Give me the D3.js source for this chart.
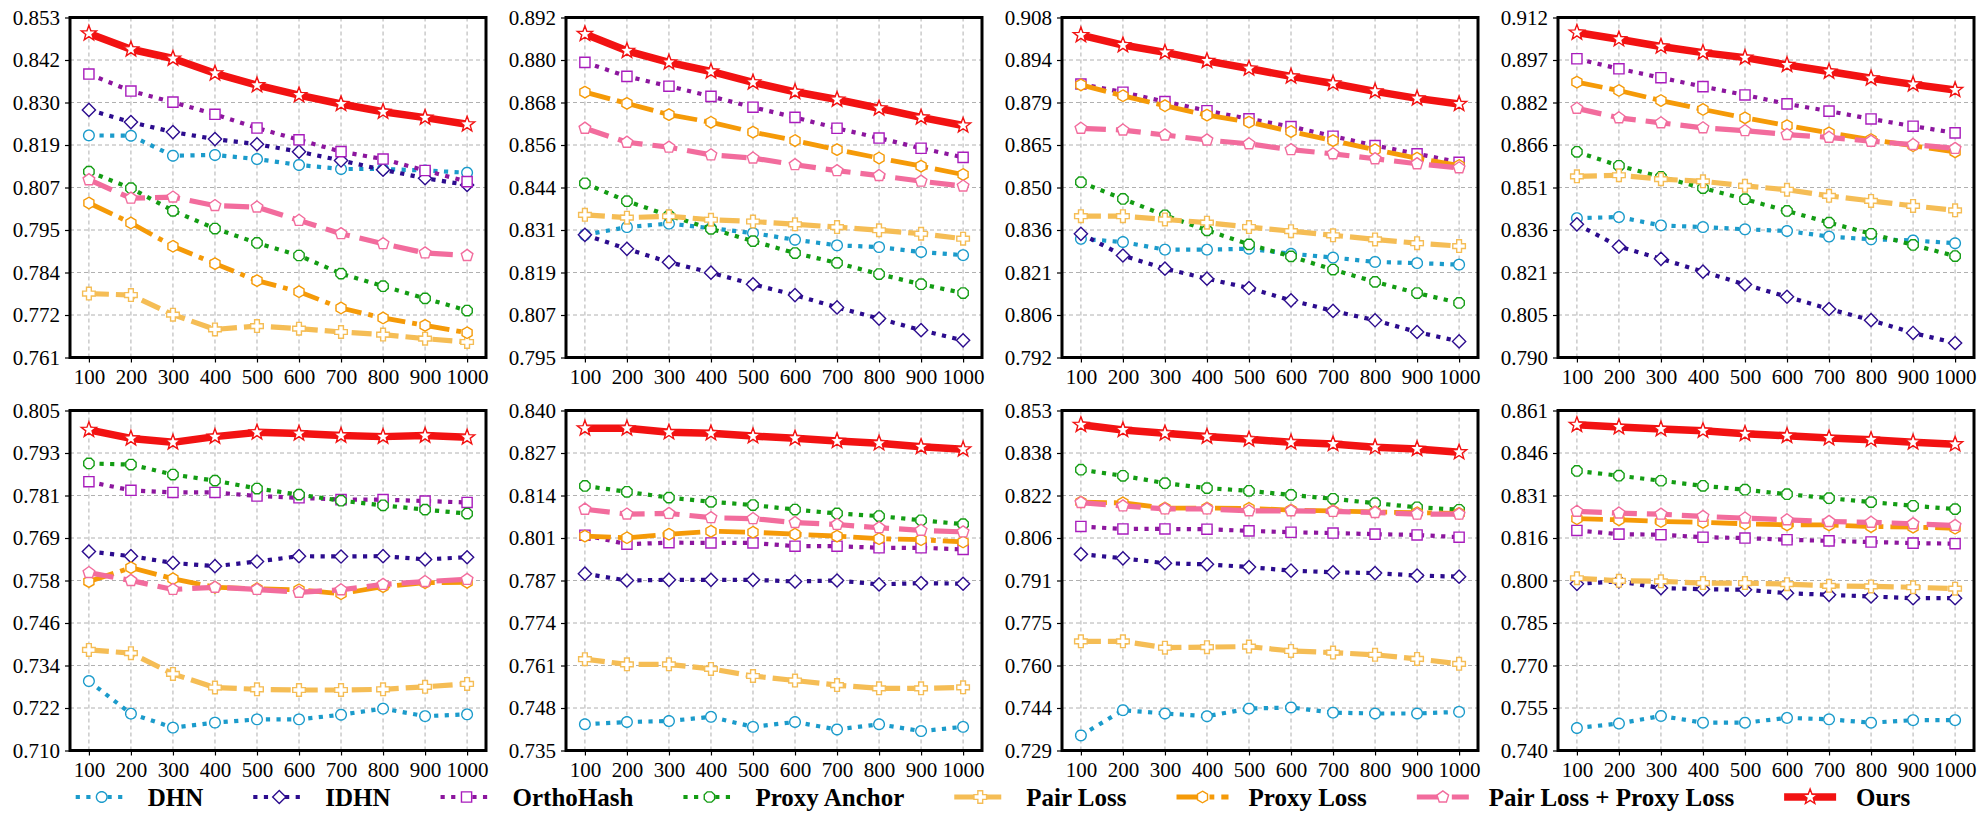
<!DOCTYPE html>
<html>
<head>
<meta charset="utf-8">
<script src="https://cdn.jsdelivr.net/npm/d3@7"></script>
<style>
  body { margin: 0; background: #fff; }
  text { font-family: "Liberation Serif", "Times New Roman", serif; }
</style>
</head>
<body>
<script>
// code lengths on the x axis
const xTicks = [100, 200, 300, 400, 500, 600, 700, 800, 900, 1000];

// y range and tick labels of each of the 8 panels (left to right, top to bottom)
const yLimits = [
  [0.761, 0.853], [0.795, 0.892], [0.792, 0.908], [0.790, 0.912],
  [0.710, 0.805], [0.735, 0.840], [0.729, 0.853], [0.740, 0.861]
];
const yTickLabels = [
  ['0.761', '0.772', '0.784', '0.795', '0.807', '0.819', '0.830', '0.842', '0.853'],
  ['0.795', '0.807', '0.819', '0.831', '0.844', '0.856', '0.868', '0.880', '0.892'],
  ['0.792', '0.806', '0.821', '0.836', '0.850', '0.865', '0.879', '0.894', '0.908'],
  ['0.790', '0.805', '0.821', '0.836', '0.851', '0.866', '0.882', '0.897', '0.912'],
  ['0.710', '0.722', '0.734', '0.746', '0.758', '0.769', '0.781', '0.793', '0.805'],
  ['0.735', '0.748', '0.761', '0.774', '0.787', '0.801', '0.814', '0.827', '0.840'],
  ['0.729', '0.744', '0.760', '0.775', '0.791', '0.806', '0.822', '0.838', '0.853'],
  ['0.740', '0.755', '0.770', '0.785', '0.800', '0.816', '0.831', '0.846', '0.861']
];

// one row per panel
const dhn = [
  [0.8211, 0.8210, 0.8156, 0.8158, 0.8147, 0.8131, 0.8120, 0.8120, 0.8116, 0.8110],
  [0.8300, 0.8322, 0.8332, 0.8319, 0.8305, 0.8286, 0.8270, 0.8265, 0.8251, 0.8242],
  [0.8325, 0.8314, 0.8288, 0.8288, 0.8291, 0.8274, 0.8261, 0.8246, 0.8242, 0.8237],
  [0.8400, 0.8404, 0.8374, 0.8368, 0.8360, 0.8354, 0.8334, 0.8324, 0.8320, 0.8310],
  [0.7294, 0.7203, 0.7164, 0.7178, 0.7187, 0.7187, 0.7200, 0.7217, 0.7196, 0.7201],
  [0.7431, 0.7438, 0.7441, 0.7454, 0.7423, 0.7438, 0.7415, 0.7431, 0.7410, 0.7423],
  [0.7345, 0.7437, 0.7425, 0.7415, 0.7443, 0.7447, 0.7428, 0.7425, 0.7425, 0.7431],
  [0.7480, 0.7496, 0.7523, 0.7499, 0.7499, 0.7516, 0.7511, 0.7499, 0.7508, 0.7508]
];
const idhn = [
  [0.8280, 0.8247, 0.8220, 0.8201, 0.8187, 0.8167, 0.8143, 0.8118, 0.8095, 0.8077],
  [0.8300, 0.8260, 0.8222, 0.8192, 0.8159, 0.8128, 0.8093, 0.8061, 0.8028, 0.7999],
  [0.8342, 0.8268, 0.8223, 0.8189, 0.8157, 0.8115, 0.8079, 0.8047, 0.8007, 0.7975],
  [0.8378, 0.8298, 0.8254, 0.8208, 0.8162, 0.8118, 0.8074, 0.8034, 0.7988, 0.7952],
  [0.7656, 0.7643, 0.7624, 0.7615, 0.7628, 0.7643, 0.7642, 0.7643, 0.7634, 0.7640],
  [0.7896, 0.7875, 0.7877, 0.7877, 0.7877, 0.7872, 0.7875, 0.7863, 0.7867, 0.7865],
  [0.8006, 0.7991, 0.7973, 0.7969, 0.7959, 0.7946, 0.7940, 0.7937, 0.7928, 0.7924],
  [0.7993, 0.8002, 0.7978, 0.7974, 0.7972, 0.7960, 0.7954, 0.7948, 0.7942, 0.7942]
];
const orthoHash = [
  [0.8377, 0.8331, 0.8301, 0.8268, 0.8231, 0.8199, 0.8167, 0.8147, 0.8116, 0.8086],
  [0.8792, 0.8752, 0.8724, 0.8695, 0.8664, 0.8635, 0.8604, 0.8576, 0.8547, 0.8521],
  [0.8853, 0.8825, 0.8793, 0.8762, 0.8734, 0.8708, 0.8675, 0.8643, 0.8615, 0.8586],
  [0.8972, 0.8936, 0.8904, 0.8872, 0.8842, 0.8810, 0.8784, 0.8756, 0.8730, 0.8706],
  [0.7851, 0.7827, 0.7821, 0.7821, 0.7811, 0.7806, 0.7801, 0.7801, 0.7797, 0.7793],
  [0.8015, 0.7987, 0.7992, 0.7991, 0.7991, 0.7981, 0.7981, 0.7976, 0.7976, 0.7971],
  [0.8107, 0.8098, 0.8098, 0.8097, 0.8091, 0.8086, 0.8083, 0.8079, 0.8076, 0.8068],
  [0.8183, 0.8170, 0.8168, 0.8159, 0.8156, 0.8150, 0.8146, 0.8142, 0.8138, 0.8136]
];
const proxyAnchor = [
  [0.8113, 0.8068, 0.8007, 0.7959, 0.7920, 0.7886, 0.7837, 0.7803, 0.7770, 0.7737],
  [0.8447, 0.8396, 0.8355, 0.8317, 0.8282, 0.8248, 0.8220, 0.8188, 0.8159, 0.8134],
  [0.8518, 0.8461, 0.8405, 0.8354, 0.8306, 0.8265, 0.8220, 0.8178, 0.8140, 0.8106],
  [0.8638, 0.8588, 0.8548, 0.8508, 0.8468, 0.8426, 0.8384, 0.8344, 0.8304, 0.8264],
  [0.7902, 0.7899, 0.7871, 0.7854, 0.7832, 0.7815, 0.7798, 0.7785, 0.7773, 0.7762],
  [0.8167, 0.8149, 0.8131, 0.8118, 0.8108, 0.8094, 0.8082, 0.8074, 0.8061, 0.8049],
  [0.8314, 0.8292, 0.8265, 0.8247, 0.8237, 0.8222, 0.8208, 0.8192, 0.8177, 0.8168],
  [0.8395, 0.8378, 0.8360, 0.8342, 0.8328, 0.8312, 0.8298, 0.8284, 0.8271, 0.8259]
];
const pairLoss = [
  [0.7783, 0.7779, 0.7726, 0.7686, 0.7695, 0.7688, 0.7679, 0.7672, 0.7661, 0.7652],
  [0.8357, 0.8349, 0.8353, 0.8343, 0.8338, 0.8330, 0.8322, 0.8313, 0.8303, 0.8289],
  [0.8402, 0.8402, 0.8391, 0.8380, 0.8365, 0.8351, 0.8337, 0.8323, 0.8310, 0.8300],
  [0.8550, 0.8554, 0.8540, 0.8532, 0.8516, 0.8502, 0.8480, 0.8462, 0.8444, 0.8428],
  [0.7381, 0.7372, 0.7314, 0.7276, 0.7271, 0.7269, 0.7269, 0.7271, 0.7278, 0.7286],
  [0.7632, 0.7616, 0.7616, 0.7602, 0.7580, 0.7566, 0.7552, 0.7542, 0.7542, 0.7545],
  [0.7688, 0.7688, 0.7665, 0.7667, 0.7669, 0.7653, 0.7647, 0.7639, 0.7624, 0.7606],
  [0.8013, 0.8004, 0.8002, 0.7996, 0.7996, 0.7992, 0.7986, 0.7984, 0.7981, 0.7976]
];
const proxyLoss = [
  [0.8028, 0.7974, 0.7911, 0.7864, 0.7818, 0.7788, 0.7744, 0.7717, 0.7697, 0.7677],
  [0.8707, 0.8675, 0.8643, 0.8621, 0.8593, 0.8569, 0.8543, 0.8519, 0.8496, 0.8472],
  [0.8850, 0.8813, 0.8779, 0.8747, 0.8723, 0.8691, 0.8660, 0.8629, 0.8600, 0.8575],
  [0.8888, 0.8858, 0.8822, 0.8790, 0.8760, 0.8732, 0.8706, 0.8682, 0.8660, 0.8638],
  [0.7572, 0.7611, 0.7580, 0.7556, 0.7552, 0.7549, 0.7538, 0.7558, 0.7569, 0.7570],
  [0.8012, 0.8007, 0.8018, 0.8027, 0.8024, 0.8018, 0.8012, 0.8004, 0.8001, 0.7994],
  [0.8196, 0.8193, 0.8174, 0.8174, 0.8173, 0.8167, 0.8164, 0.8160, 0.8157, 0.8155],
  [0.8225, 0.8221, 0.8215, 0.8212, 0.8207, 0.8203, 0.8203, 0.8197, 0.8195, 0.8191]
];
const pairProxy = [
  [0.8091, 0.8041, 0.8044, 0.8021, 0.8017, 0.7981, 0.7945, 0.7918, 0.7893, 0.7886],
  [0.8604, 0.8564, 0.8550, 0.8528, 0.8519, 0.8500, 0.8483, 0.8469, 0.8453, 0.8439],
  [0.8702, 0.8696, 0.8679, 0.8662, 0.8649, 0.8629, 0.8615, 0.8598, 0.8581, 0.8567],
  [0.8794, 0.8760, 0.8742, 0.8724, 0.8714, 0.8700, 0.8690, 0.8676, 0.8664, 0.8650],
  [0.7597, 0.7575, 0.7550, 0.7556, 0.7550, 0.7542, 0.7549, 0.7564, 0.7572, 0.7578],
  [0.8095, 0.8080, 0.8082, 0.8069, 0.8066, 0.8054, 0.8048, 0.8038, 0.8030, 0.8025],
  [0.8194, 0.8182, 0.8171, 0.8171, 0.8164, 0.8164, 0.8162, 0.8158, 0.8152, 0.8152],
  [0.8251, 0.8245, 0.8241, 0.8233, 0.8227, 0.8221, 0.8215, 0.8212, 0.8207, 0.8201]
];
const ours = [
  [0.8487, 0.8444, 0.8419, 0.8379, 0.8347, 0.8320, 0.8296, 0.8275, 0.8259, 0.8241],
  [0.8873, 0.8825, 0.8792, 0.8766, 0.8735, 0.8708, 0.8686, 0.8661, 0.8635, 0.8612],
  [0.9020, 0.8986, 0.8961, 0.8932, 0.8906, 0.8879, 0.8855, 0.8828, 0.8804, 0.8785],
  [0.9066, 0.9042, 0.9016, 0.8994, 0.8976, 0.8950, 0.8926, 0.8902, 0.8880, 0.8860],
  [0.7996, 0.7972, 0.7961, 0.7977, 0.7989, 0.7986, 0.7980, 0.7977, 0.7980, 0.7975],
  [0.8345, 0.8345, 0.8333, 0.8330, 0.8321, 0.8314, 0.8306, 0.8299, 0.8288, 0.8280],
  [0.8478, 0.8459, 0.8447, 0.8435, 0.8425, 0.8414, 0.8408, 0.8396, 0.8390, 0.8378],
  [0.8559, 0.8551, 0.8544, 0.8538, 0.8527, 0.8520, 0.8512, 0.8506, 0.8497, 0.8490]
];

const seriesNames = ['DHN', 'IDHN', 'OrthoHash', 'Proxy Anchor', 'Pair Loss', 'Proxy Loss',
  'Pair Loss + Proxy Loss', 'Ours'];
const seriesData = [dhn, idhn, orthoHash, proxyAnchor, pairLoss, proxyLoss, pairProxy, ours];

// marker shapes
function poly(n, r, rot) {
  const pts = d3.range(n).map(i => {
    const a = rot + i * 2 * Math.PI / n;
    return [r * Math.cos(a), r * Math.sin(a)];
  });
  return 'M' + pts.map(p => p[0].toFixed(2) + ',' + p[1].toFixed(2)).join('L') + 'Z';
}
function star(ro, ri) {
  const pts = d3.range(10).map(i => {
    const a = -Math.PI / 2 + i * Math.PI / 5, r = i % 2 ? ri : ro;
    return [r * Math.cos(a), r * Math.sin(a)];
  });
  return 'M' + pts.map(p => p[0].toFixed(2) + ',' + p[1].toFixed(2)).join('L') + 'Z';
}
function plus(h, t) {
  return `M${-t},${-h}H${t}V${-t}H${h}V${t}H${t}V${h}H${-t}V${t}H${-h}V${-t}H${-t}Z`;
}
const deg = Math.PI / 180;

const styles = [
  {line: '#1b9bcb', edge: '#1b9bcb', lw: 4.2, dash: '4.2,6.4', marker: poly(40, 5.3, 0)},
  {line: '#2c0c8e', edge: '#2c0c8e', lw: 4.2, dash: '4.2,6.4', marker: poly(4, 6.6, -90 * deg)},
  {line: '#8c169e', edge: '#a81cbc', lw: 4.2, dash: '4.2,6.4', marker: poly(4, 7.2, 45 * deg)},
  {line: '#139c13', edge: '#139c13', lw: 4.2, dash: '4.2,6.4', marker: poly(8, 5.6, 22.5 * deg)},
  {line: '#f5bd55', edge: '#f5bd55', lw: 5.2, dash: '20,7', marker: plus(6.3, 2.4)},
  {line: '#f59a08', edge: '#f59a08', lw: 4.8, dash: '26,7,4.8,7', marker: poly(6, 5.8, -90 * deg)},
  {line: '#f26c9d', edge: '#f26c9d', lw: 5.2, dash: '25,10', marker: poly(5, 6.1, -90 * deg)},
  {line: '#f21212', edge: '#f21212', lw: 7.5, dash: null, marker: star(8, 3.3)}
];

const W = 1986, H = 830;
const colLeft = [70, 566, 1062, 1558], plotW = 416;
const rowTop = [17.5, 410.5], plotH = 340;

const svg = d3.select('body').append('svg')
  .attr('width', W)
  .attr('height', H);

for (let p = 0; p < 8; p++) {
  const x0 = colLeft[p % 4], y0 = rowTop[Math.floor(p / 4)];
  const g = svg.append('g').attr('transform', `translate(${x0},${y0})`);
  const [lo, hi] = yLimits[p];

  const xScale = d3.scaleLinear().domain([55, 1045]).range([0, plotW]);
  const yScale = d3.scaleLinear().domain([lo, hi]).range([plotH, 0]);
  const yTicks = d3.range(9).map(i => lo + (hi - lo) * i / 8);

  // grid
  g.append('g').selectAll('line.gx').data(xTicks).enter().append('line')
    .attr('x1', d => xScale(d)).attr('x2', d => xScale(d))
    .attr('y1', 0).attr('y2', plotH)
    .attr('stroke', '#b0b0b0').attr('stroke-width', 1).attr('stroke-dasharray', '4,3');
  g.append('g').selectAll('line.gy').data(yTicks).enter().append('line')
    .attr('x1', 0).attr('x2', plotW)
    .attr('y1', d => yScale(d)).attr('y2', d => yScale(d))
    .attr('stroke', '#b0b0b0').attr('stroke-width', 1).attr('stroke-dasharray', '4,3');

  // axes
  const yAxis = d3.axisLeft(yScale).tickValues(yTicks)
    .tickFormat((d, i) => yTickLabels[p][i]).tickSize(5).tickPadding(5);
  const ya = g.append('g').call(yAxis);
  const xAxis = d3.axisBottom(xScale).tickValues(xTicks)
    .tickFormat(d3.format('d')).tickSize(5).tickPadding(7);
  const xa = g.append('g').attr('transform', `translate(0,${plotH})`).call(xAxis);
  [ya, xa].forEach(a => {
    a.select('.domain').remove();
    a.selectAll('.tick line').attr('stroke', '#000').attr('stroke-width', 1.2);
    a.selectAll('.tick text').attr('fill', '#000')
      .style('font-family', '"Liberation Serif", serif').style('font-size', '21px');
  });

  // series
  seriesData.forEach((series, s) => {
    const st = styles[s];
    const vals = series[p];
    const line = d3.line().x((d, i) => xScale(xTicks[i])).y(d => yScale(d));
    g.append('path').datum(vals)
      .attr('d', line)
      .attr('fill', 'none')
      .attr('stroke', st.line)
      .attr('stroke-width', st.lw)
      .attr('stroke-dasharray', st.dash)
      .attr('stroke-linejoin', 'round');
    g.append('g').selectAll('path').data(vals).enter().append('path')
      .attr('d', st.marker)
      .attr('transform', (d, i) => `translate(${xScale(xTicks[i])},${yScale(d)})`)
      .attr('fill', '#fff')
      .attr('stroke', st.edge)
      .attr('stroke-width', 1.4);
  });

  // frame
  g.append('rect').attr('width', plotW).attr('height', plotH)
    .attr('fill', 'none').attr('stroke', '#000').attr('stroke-width', 3);
}

// legend across the bottom, centred
const legend = svg.append('g');
const handleW = 52, textPad = 20, colGap = 50;
let lx = 0;
seriesNames.forEach((name, s) => {
  const st = styles[s];
  const item = legend.append('g').attr('transform', `translate(${lx},0)`);
  item.append('line')
    .attr('x1', 0).attr('x2', handleW).attr('y1', 0).attr('y2', 0)
    .attr('stroke', st.line).attr('stroke-width', st.lw)
    .attr('stroke-dasharray', st.dash);
  item.append('path')
    .attr('d', st.marker)
    .attr('transform', `translate(${handleW / 2},0)`)
    .attr('fill', '#fff').attr('stroke', st.edge).attr('stroke-width', 1.4);
  const t = item.append('text')
    .attr('x', handleW + textPad).attr('y', 8.5)
    .style('font-family', '"Liberation Serif", serif')
    .style('font-size', '25px').style('font-weight', 'bold')
    .text(name);
  lx += handleW + textPad + t.node().getComputedTextLength() + colGap;
});
const legendW = lx - colGap;
legend.attr('transform', `translate(${(W - legendW) / 2},797)`);
</script>
</body>
</html>
